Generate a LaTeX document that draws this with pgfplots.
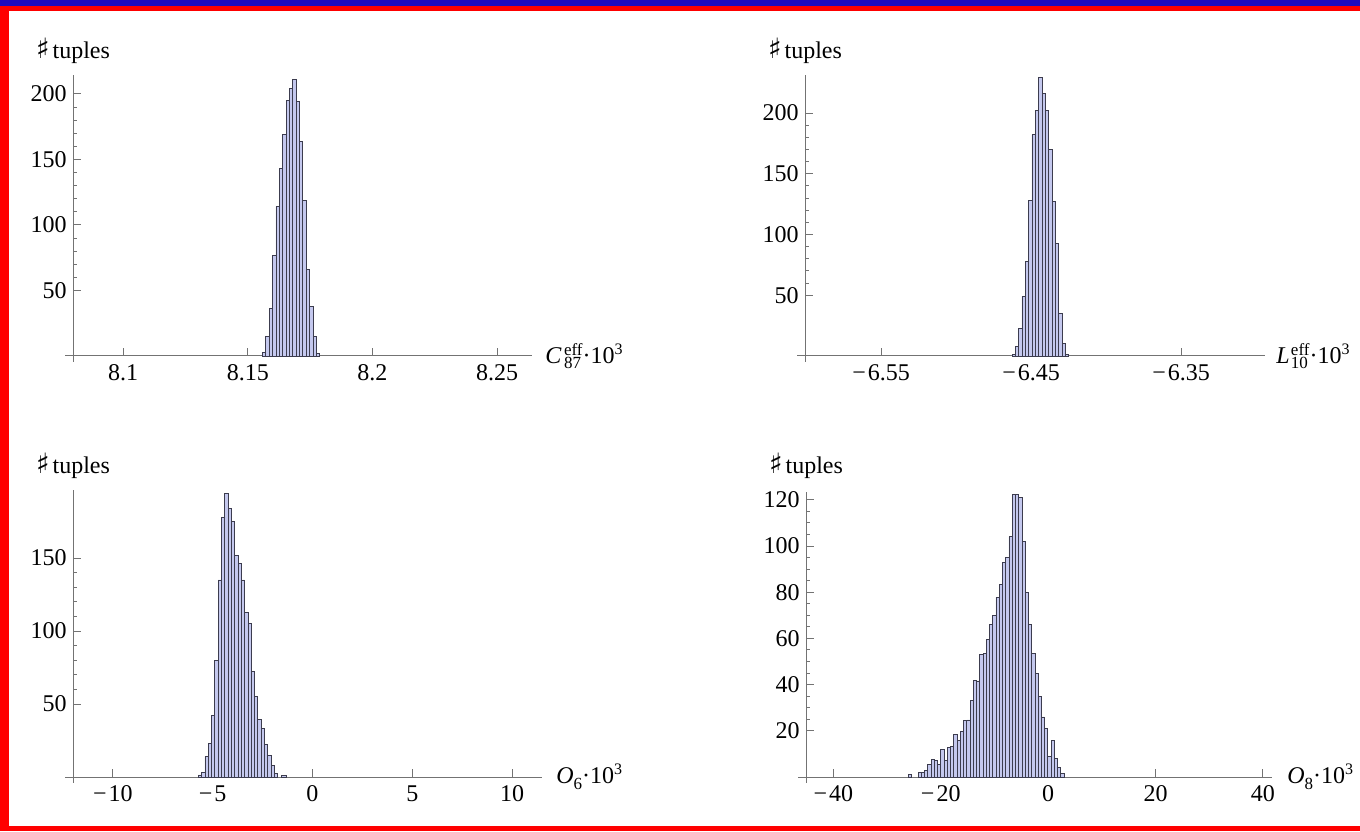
\documentclass[border=0pt]{standalone}
\usepackage{fontspec}
\setmainfont{Liberation Serif}
\newfontfamily\djv{DejaVu Sans}
\usepackage{pgfplots}
\pgfplotsset{compat=1.18}
\definecolor{barfill}{RGB}{196,200,238}
\definecolor{baredge}{RGB}{60,60,78}
\definecolor{axgray}{RGB}{115,115,115}
\definecolor{fblue}{RGB}{30,10,190}
\definecolor{fred}{RGB}{255,0,0}
\newcommand\ssz{\fontsize{8.5}{9}\selectfont}
\newcommand\supsub[2]{{\ssz\setbox0\hbox{#1}\setbox2\hbox{#2}\raisebox{1.05ex}{\rlap{#1}}\raisebox{-0.65ex}{\rlap{#2}}\kern\ifdim\wd0>\wd2 \wd0\else\wd2\fi}}
\newcommand\tuples{{\djv\fontsize{14}{14}\selectfont ♯}\kern1.5pt tuples}
\newcommand\mn{−\kern1pt}
\pgfplotsset{
  hist/.style={
    scale only axis, axis x line=bottom, axis y line=left,
    axis line style={-, draw=axgray, line width=0.5pt},
    every tick/.style={axgray, line width=0.5pt},
    major tick length=4pt, minor tick length=2.2pt,
    tick align=inside, ymin=0, clip=false,
    minor x tick num=0, scaled ticks=false,
    /pgf/number format/assume math mode=true,
    tick label style={font=\fontsize{12}{14}\selectfont, text=black},
    yticklabel style={inner xsep=3pt},
  },
  bar/.style={ybar interval, fill=barfill, draw=baredge, line width=0.4pt},
}
\newcommand\axext{%
  \draw[axgray, line width=0.5pt] (rel axis cs:0,0) -- ([xshift=-4pt]rel axis cs:0,0);
  \draw[axgray, line width=0.5pt] (rel axis cs:0,0) -- ([yshift=-3pt]rel axis cs:0,0);}
\begin{document}
\fontsize{12}{14}\selectfont
\begin{tikzpicture}
\useasboundingbox (0,0) rectangle (680pt,415.5pt);
\fill[white] (0,0) rectangle (680pt,415.5pt);
\fill[fred] (0,410pt) rectangle (680pt,412.5pt);
\fill[fblue] (0,412.5pt) rectangle (680pt,415.5pt);
\fill[fred] (0,0) rectangle (4.5pt,410pt);
\fill[fred] (0,0) rectangle (680pt,2.5pt);

% Panel 1
\begin{axis}[hist, at={(36.5pt,237.5pt)}, anchor=south west, width=229.5pt, height=140.5pt,
  xmin=8.0799, xmax=8.264, ymax=214.5, minor y tick num=4,
  xtick={8.1,8.15,8.2,8.25}, xticklabels={8.1,8.15,8.2,8.25}, ytick={50,100,150,200}]
\addplot[bar] coordinates {
(8.1559,3) (8.15725,15) (8.1586,36) (8.15995,77) (8.1613,114) (8.16265,143)
(8.164,169) (8.16535,195) (8.1667,204) (8.16805,211) (8.1694,194) (8.17075,164)
(8.1721,119) (8.17345,66) (8.1748,38) (8.17615,15) (8.1775,2) (8.17885,0)};
\axext
\node[anchor=west, xshift=2.5pt] at (rel axis cs:1,0) {\textit{C}\kern1.2pt\supsub{eff}{87}·10\textsuperscript{3}};
\node[yshift=12pt] at (rel axis cs:0,1) {\tuples};
\end{axis}

% Panel 2
\begin{axis}[hist, at={(402.5pt,237.5pt)}, anchor=south west, width=230pt, height=140.5pt,
  xmin=-6.6007, xmax=-6.294, ymax=231.3, minor y tick num=4,
  xtick={-6.55,-6.45,-6.35}, xticklabels={\mn6.55,\mn6.45,\mn6.35}, ytick={50,100,150,200}]
\addplot[bar] coordinates {
(-6.4627,1) (-6.46048,8) (-6.45826,23) (-6.45604,49) (-6.45382,78) (-6.4516,128)
(-6.44938,182) (-6.44716,202) (-6.44494,229) (-6.44272,216) (-6.4405,202) (-6.43828,170)
(-6.43606,127) (-6.43384,93) (-6.43162,35) (-6.4294,10) (-6.42718,1) (-6.42496,0)};
\axext
\node[anchor=west, xshift=1.5pt] at (rel axis cs:1,0) {\textit{L}\kern0.6pt\supsub{eff}{10}·10\textsuperscript{3}};
\node[yshift=12pt] at (rel axis cs:0,1) {\tuples};
\end{axis}

% Panel 3
\begin{axis}[hist, at={(36.5pt,27pt)}, anchor=south west, width=234.5pt, height=143.5pt,
  xmin=-12.0, xmax=11.5, ymax=196.6, minor y tick num=4,
  xtick={-10,-5,0,5,10}, xticklabels={\mn10,\mn5,0,5,10}, ytick={50,100,150}]
\addplot[bar] coordinates {
(-5.72,1.4) (-5.5544,3) (-5.3888,14) (-5.2232,23) (-5.0576,42) (-4.892,80)
(-4.7264,135) (-4.5608,178) (-4.3952,194) (-4.2296,184) (-4.064,175) (-3.8984,152)
(-3.7328,146) (-3.5672,135) (-3.4016,113) (-3.236,105) (-3.0704,72) (-2.9048,55)
(-2.7392,39.5) (-2.5736,33) (-2.408,22.6) (-2.2424,15) (-2.0768,8) (-1.9112,2.5) (-1.7456,0)};
\addplot[bar] coordinates {(-1.54,1) (-1.32,0)};
\axext
\node[anchor=west, xshift=3pt] at (rel axis cs:1,0) {\textit{O}\raisebox{-0.6ex}{\ssz 6}·10\textsuperscript{3}};
\node[yshift=12pt] at (rel axis cs:0,1) {\tuples};
\end{axis}

% Panel 4
\begin{axis}[hist, at={(403pt,27pt)}, anchor=south west, width=233pt, height=142.5pt,
  xmin=-45.1, xmax=41.7, ymax=123.4, minor y tick num=3,
  xtick={-40,-20,0,20,40}, xticklabels={\mn40,\mn20,0,20,40}, ytick={20,40,60,80,100,120}]
\addplot[bar] coordinates {(-26.08,1) (-25.476,0)};
\addplot[bar] coordinates {
(-24.21,2) (-23.606,2) (-23.002,3) (-22.398,5.6) (-21.794,7.6) (-21.19,7)
(-20.586,5.6) (-19.982,12) (-19.378,7) (-18.774,12.7) (-18.17,13.4) (-17.566,18.6)
(-16.962,16) (-16.358,19.6) (-15.754,24.4) (-15.15,24.7) (-14.546,33) (-13.942,42)
(-13.338,41.6) (-12.734,53) (-12.13,53.5) (-11.526,59.6) (-10.922,66) (-10.318,70)
(-9.714,77.8) (-9.11,83.4) (-8.506,92.8) (-7.902,95) (-7.298,104) (-6.694,122.5)
(-6.09,122.5) (-5.486,121) (-4.882,102) (-4.278,80) (-3.674,66) (-3.07,53.5)
(-2.466,45) (-1.862,34.8) (-1.258,26) (-0.654,21) (-0.05,8.8) (0.554,15.7)
(1.158,8) (1.762,4) (2.366,1.6) (2.97,0)};
\axext
\node[anchor=west, xshift=3.5pt] at (rel axis cs:1,0) {\textit{O}\raisebox{-0.6ex}{\ssz 8}·10\textsuperscript{3}};
\node[yshift=13pt] at (rel axis cs:0,1) {\tuples};
\end{axis}
\end{tikzpicture}
\end{document}
